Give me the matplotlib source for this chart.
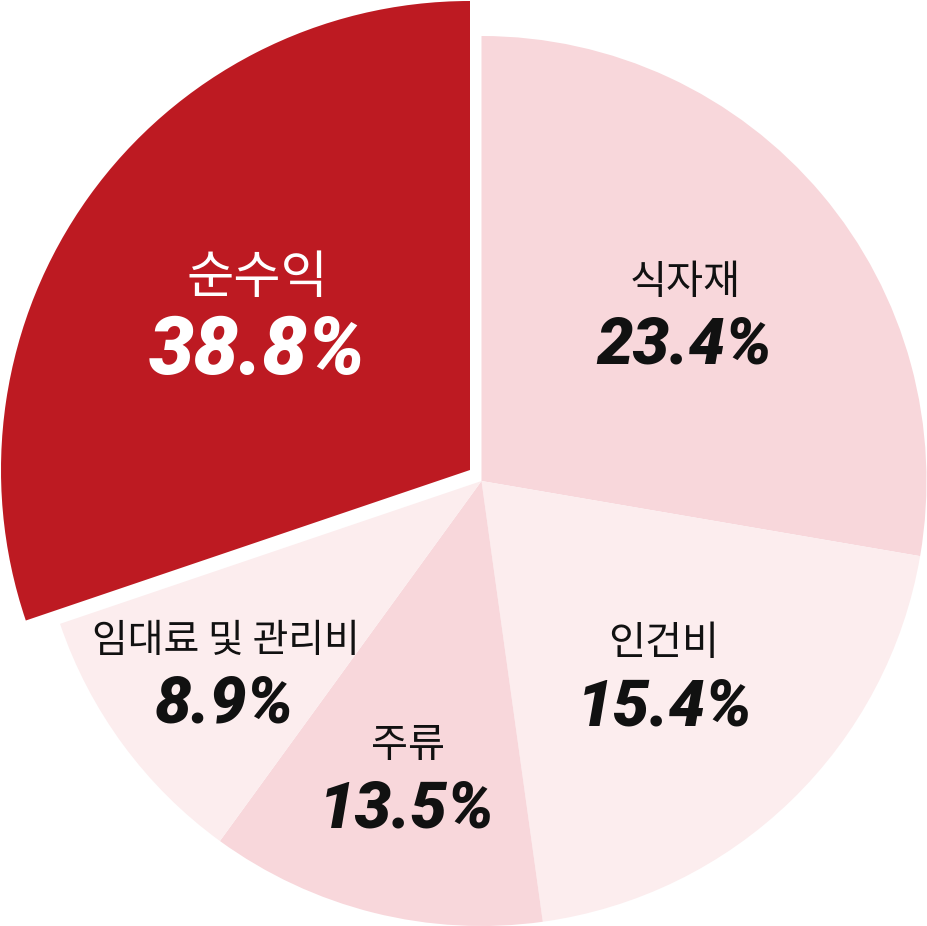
import matplotlib
matplotlib.use("Agg")
import matplotlib.pyplot as plt

# ---- data ----
categories = ["식자재", "인건비", "주류", "임대료 및 관리비", "순수익"]
pct_labels = ["23.4%", "15.4%", "13.5%", "8.9%", "38.8%"]
# slice sizes as drawn in the picture (angular shares, %)
shares = [27.7, 20.1, 12.2, 9.8, 30.2]

# ---- style / layout ----
colors = ["#F8D7DB", "#FCEDEE", "#F8D7DB", "#FCEDEE", "#BD1A22"]
text_colors = ["#111111", "#111111", "#111111", "#111111", "#FFFFFF"]
PX = 445.0          # pixels per unit radius
CX, CY = 481.5, 481.0  # pie centre in pixels (from top-left)

def to_data(px, py):
    return ((px - CX) / PX, (CY - py) / PX)

label_pos_px = [(685, 283), (664, 644), (408, 746), (226, 641), (257, 278)]
pct_pos_px = [(684, 346), (665, 708), (407, 810), (225, 705), (257, 352)]
label_sizes = [29, 29, 29, 28, 37]
pct_sizes = [47, 47, 47, 47, 58]

W, H = 927, 926
fig = plt.figure(figsize=(W / 100, H / 100), dpi=100)
ax = fig.add_axes([0, 0, 1, 1])
ax.set_aspect("equal")
ax.axis("off")

wedges, _ = ax.pie(shares, colors=colors, startangle=90, counterclock=False,
                   radius=1.0, center=(0, 0), wedgeprops=dict(linewidth=0))
# 순수익 slice is pulled out and slightly enlarged
w = wedges[4]
w.set_center((-11.5 / PX, 11.0 / PX))
w.set_radius(469.0 / PX)

ax.set_xlim(-CX / PX, (W - CX) / PX)
ax.set_ylim(-(H - CY) / PX, CY / PX)

for i, cat in enumerate(categories):
    lx, ly = to_data(*label_pos_px[i])
    ax.text(lx, ly, cat, ha="center", va="center", fontsize=label_sizes[i],
            color=text_colors[i], family=["Noto Sans CJK KR", "DejaVu Sans"],
            fontweight="light")
    px_, py_ = to_data(*pct_pos_px[i])
    ax.text(px_, py_, pct_labels[i], ha="center", va="center",
            fontsize=pct_sizes[i], color=text_colors[i],
            family=["Roboto", "DejaVu Sans"], fontweight="black",
            fontstyle="italic")

fig.savefig("out.png", dpi=100)
